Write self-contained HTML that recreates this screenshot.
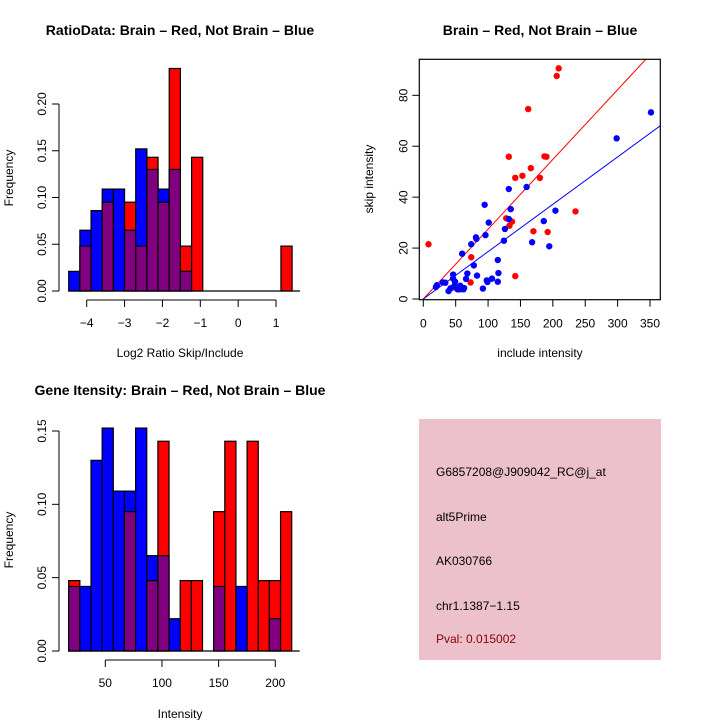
<!DOCTYPE html>
<html><head><meta charset="utf-8"><style>
body{margin:0;background:#fff}
svg{display:block;font-family:"Liberation Sans",sans-serif}
</style></head><body>
<svg id="c" width="720" height="720" viewBox="0 0 720 720">
<rect width="720" height="720" fill="#fff"/>
</svg>
<script>
// ---- Panel 1: ratio histogram ----
const ratioBlue=[0.021,0.065,0.086,0.109,0.109,0.065,0.152,0.130,0.109,0.130,0.021,0,0,0,0,0,0,0,0,0];
const ratioRed=[0,0.048,0,0.095,0,0.095,0.048,0.143,0.095,0.238,0.048,0.143,0,0,0,0,0,0,0,0.048];
const ratioXTicks=[-4,-3,-2,-1,0,1];
const ratioYTicks=[0,0.05,0.10,0.15,0.20];
// ---- Panel 2: scatter ----
const redInc=[8,209,206,162,132,187,190,166,153,142,180,128,137,133,235,170,192,74,73,142,48];
const redSkip=[21.5,90.6,87.6,74.6,55.9,56,55.9,51.4,48.4,47.6,47.6,31.7,30.4,28.8,34.4,26.6,26.3,16.4,6.5,9,4.5];
const blueInc=[351.5,298.5,204,186,168,194.5,159.5,132,135,132,126,124.5,94.7,101,96,81.3,82,74,60,115,78,116,83,68,66,106,98,99,115,92,46,46,49,48,57,59,53,62,42,39,34,30,19.5,21,56,63];
const blueSkip=[73.3,63.1,34.7,30.6,22.3,20.7,44,43.2,35.3,31.4,27.5,22.9,37,30,25.1,24.2,23.6,21.5,17.8,15.3,13.2,10.2,9.2,10,7.9,8,7.3,6.7,6.8,4.1,9.6,8,6.8,5.2,5.2,4.5,3.8,3.8,4.2,3.1,6.4,6.5,4.7,5.4,3.8,4.3];
const fitSlopes=[0.274,0.186];
const fitColors=["#ff0000","#0000ff"];
const scatXTicks=[0,50,100,150,200,250,300,350];
const scatYTicks=[0,20,40,60,80];
// ---- Panel 3: intensity histogram ----
const intBlue=[0.044,0.044,0.130,0.152,0.109,0.109,0.152,0.065,0.065,0.022,0,0,0,0.044,0,0.044,0,0,0.022,0];
const intRed=[0.048,0,0,0,0,0.095,0,0.048,0.143,0,0.048,0.048,0,0.095,0.143,0,0.143,0.048,0.048,0.095];
const intXTicks=[50,100,150,200];
const intYTicks=[0,0.05,0.10,0.15];
// ---- Panel 4: info text ----
const infoLines=["G6857208@J909042_RC@j_at","alt5Prime","AK030766","chr1.1387\u22121.15","Pval: 0.015002"];

const NS="http://www.w3.org/2000/svg";
const svg=document.getElementById('c');
function mk(tag,attrs,parent,text){const e=document.createElementNS(NS,tag);for(const k in attrs)e.setAttribute(k,attrs[k]);if(text!==undefined)e.textContent=text;(parent||svg).appendChild(e);return e;}
function grp(name){const g=mk('g',{});return g;}
function fmt2(v){return v.toFixed(2);}

function hist(name,blue,red,x0,bw,sx,sy,xTicks,yTicks,yfmt,yAxisX,xAxisY,labels){
  const g=grp(name);
  const yb=sy(0);
  for(let i=0;i<blue.length;i++){
    const b=blue[i],r=red[i],xl=x0+i*bw;
    const mx=Math.max(b,r),mn=Math.min(b,r);
    const top=mk('rect',{x:xl,y:sy(mx),width:bw,height:yb-sy(mx),fill:b>=r?'#0000ff':'#ff0000',stroke:'#000','stroke-width':1.2},g);
    
    
    if(mn>0){const p=mk('rect',{x:xl,y:sy(mn),width:bw,height:yb-sy(mn),fill:'#800080',stroke:'#000','stroke-width':1.2},g);
      
      }
  }
  mk('line',{x1:x0,x2:x0+blue.length*bw+8,y1:yb,y2:yb,stroke:'#000','stroke-width':1.2},g);
  const ya=grp(name+'-y-axis');
  mk('line',{x1:yAxisX,x2:yAxisX,y1:sy(yTicks[0]),y2:sy(yTicks[yTicks.length-1]),stroke:'#000'},ya);
  yTicks.forEach(t=>{const y=sy(t);mk('line',{x1:yAxisX-7,x2:yAxisX,y1:y,y2:y,stroke:'#000'},ya);
    mk('text',{x:0,y:0,transform:`translate(${yAxisX-13},${y}) rotate(-90)`,'text-anchor':'middle','font-size':12},ya,yfmt(t));});
  const xa=grp(name+'-x-axis');
  mk('line',{x1:sx(xTicks[0]),x2:sx(xTicks[xTicks.length-1]),y1:xAxisY,y2:xAxisY,stroke:'#000'},xa);
  xTicks.forEach(t=>{const x=sx(t);mk('line',{x1:x,x2:x,y1:xAxisY,y2:xAxisY+7,stroke:'#000'},xa);
    mk('text',{x:x,y:xAxisY+27,'text-anchor':'middle','font-size':12},xa,String(t).replace('-','\u2212'));});
  const t=mk('text',{x:180,y:labels.ty,'text-anchor':'middle','font-size':14,'font-weight':'bold'},svg,labels.title);
  
  const xl=mk('text',{x:180,y:labels.xy,'text-anchor':'middle','font-size':12},svg,labels.x);
  
  const yl=mk('text',{x:0,y:0,transform:`translate(13,${labels.yc}) rotate(-90)`,'text-anchor':'middle','font-size':12},svg,'Frequency');
  
}

// Panel 1
{const sx=v=>86.7+(v+4)*37.87, sy=v=>291-v*935;
 hist('ratio-histogram',ratioBlue,ratioRed,68.7,11.17,sx,sy,ratioXTicks,ratioYTicks,fmt2,59,300,
  {title:'RatioData: Brain \u2013 Red, Not Brain \u2013 Blue',ty:35,x:'Log2 Ratio Skip/Include',xy:357,yc:178});}
// Panel 3
{const sx=v=>105.3+(v-50)*1.1333, sy=v=>651-v*1466.7;
 hist('intensity-histogram',intBlue,intRed,68.7,11.15,sx,sy,intXTicks,intYTicks,fmt2,59,660,
  {title:'Gene Itensity: Brain \u2013 Red, Not Brain \u2013 Blue',ty:395,x:'Intensity',xy:718,yc:540});}
// Panel 2
{
 const g=grp('scatter-plot');
 const sx=v=>423.3+v*0.6477, sy=v=>299-v*2.546;
 const L=419.3,R=660.3,T=59.3,B=299.7;
 const cp=mk('clipPath',{id:'sc'},g);mk('rect',{x:L,y:T,width:R-L,height:B-T},cp);
 fitSlopes.forEach((s,i)=>{
   const xEnd=366;const ln=mk('line',{x1:sx(0),y1:sy(0),x2:sx(xEnd),y2:sy(s*xEnd),stroke:fitColors[i],'stroke-width':1,'clip-path':'url(#sc)'},g);
   
   
 });
 redInc.forEach((v,i)=>{const c=mk('circle',{cx:sx(v),cy:sy(redSkip[i]),r:3.2,fill:'#ff0000'},g);
   
   });
 blueInc.forEach((v,i)=>{const c=mk('circle',{cx:sx(v),cy:sy(blueSkip[i]),r:3.2,fill:'#0000ff'},g);
   
   });
 mk('rect',{x:L,y:T,width:R-L,height:B-T,fill:'none',stroke:'#000','stroke-width':1.2},g);
 const xa=grp('scatter-x-axis');
 scatXTicks.forEach(t=>{const x=sx(t);mk('line',{x1:x,x2:x,y1:B,y2:B+7,stroke:'#000'},xa);
   mk('text',{x:x,y:B+28,'text-anchor':'middle','font-size':12},xa,String(t));});
 const ya=grp('scatter-y-axis');
 scatYTicks.forEach(t=>{const y=sy(t);mk('line',{x1:L-7,x2:L,y1:y,y2:y,stroke:'#000'},ya);
   mk('text',{x:0,y:0,transform:`translate(${L-12},${y}) rotate(-90)`,'text-anchor':'middle','font-size':12},ya,String(t));});
 const t=mk('text',{x:540,y:35,'text-anchor':'middle','font-size':14,'font-weight':'bold'},svg,'Brain \u2013 Red, Not Brain \u2013 Blue');
 
 const xl=mk('text',{x:540,y:357,'text-anchor':'middle','font-size':12},svg,'include intensity');
 
 const yl=mk('text',{x:0,y:0,transform:'translate(373,179) rotate(-90)','text-anchor':'middle','font-size':12},svg,'skip intensity');
 
}
// Panel 4
{
 const g=grp('info-panel');
 mk('rect',{x:419,y:419,width:242,height:241,fill:'#ecc1cb'},g);
 const ys=[476,521,565,610,643];
 infoLines.forEach((s,i)=>{const t=mk('text',{x:436,y:ys[i],'font-size':12,fill:i==4?'#8b0000':'#000'},g,s);
   
   });
}
</script>
</body></html>
